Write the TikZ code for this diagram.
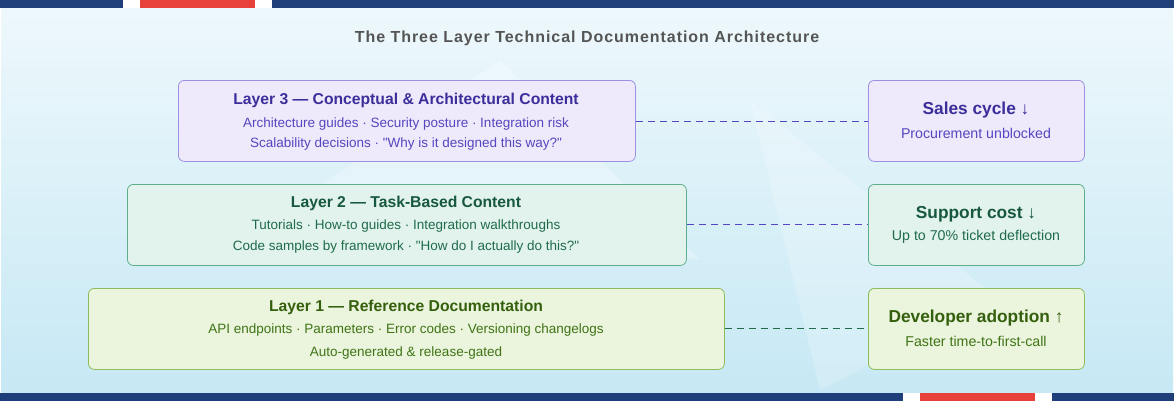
\documentclass[tikz,border=0pt]{standalone}
\usepackage{fontspec}
\setmainfont{Liberation Sans}
\definecolor{navy}{HTML}{1F3F7A}
\definecolor{redbar}{HTML}{E8413C}
\definecolor{bgA}{HTML}{EEF8FC}
\definecolor{bgB}{HTML}{C6E8F4}
\definecolor{tgray}{HTML}{555555}
\definecolor{pFill}{HTML}{EEEAFB}\definecolor{pLine}{HTML}{9D90E2}\definecolor{pHead}{HTML}{3B2E9A}\definecolor{pText}{HTML}{5646C0}
\definecolor{gFill}{HTML}{E1F3EC}\definecolor{gLine}{HTML}{5EAE8B}\definecolor{gHead}{HTML}{17583F}\definecolor{gText}{HTML}{1F6B4B}
\definecolor{lFill}{HTML}{EBF4DC}\definecolor{lLine}{HTML}{8DBD5A}\definecolor{lHead}{HTML}{34600E}\definecolor{lText}{HTML}{3F7415}
\begin{document}
\begin{tikzpicture}[x=1pt,y=-1pt,
 box/.style={draw,rounded corners=6pt,line width=0.8pt,anchor=north west,inner sep=0pt},
 head/.style={font=\bfseries\fontsize{15.7}{18}\selectfont},
 sub/.style={font=\fontsize{13.5}{16}\selectfont},
 rhead/.style={font=\bfseries\fontsize{17.3}{20}\selectfont},
 rsub/.style={font=\fontsize{14.2}{17}\selectfont},
 link/.style={dashed,line width=1pt,dash pattern=on 7pt off 5pt}]
\useasboundingbox (0,0) rectangle (1174,402);
\shade[top color=bgA,bottom color=bgB,rounded corners=8pt] (1,4) rectangle (1173,398);
\fill[white,opacity=0.25] (300,200) -- (500,60) -- (700,260) -- cycle;
\fill[white,opacity=0.2] (750,100) -- (1000,300) -- (820,390) -- cycle;
\fill[navy] (0,0) rectangle (1174,8);
\fill[white] (123,0) rectangle (272,8);
\fill[redbar] (140,0) rectangle (255,8);
\fill[navy] (0,393) rectangle (1174,401);
\fill[white] (903,393) rectangle (1052,401);
\fill[redbar] (920,393) rectangle (1035,401);
\node[font=\bfseries\fontsize{16}{18}\selectfont,text=tgray] (title) at (587,38) {\addfontfeature{LetterSpace=6}The Three Layer Technical Documentation Architecture};
% Layer 3
\node[box,draw=pLine,fill=pFill,minimum width=457pt,minimum height=81pt] (l3) at (178,80) {};
\node[head,text=pHead] (l3h) at (406,100) {Layer 3 — Conceptual \& Architectural Content};
\node[sub,text=pText] (l3a) at (406,124) {Architecture guides · Security posture · Integration risk};
\node[sub,text=pText] (l3b) at (406,144) {Scalability decisions · \textquotedbl Why is it designed this way?\textquotedbl};
\node[box,draw=pLine,fill=pFill,minimum width=216pt,minimum height=81pt] (r3) at (868,80) {};
\node[rhead,text=pHead] (r3h) at (976,110) {Sales cycle ↓};
\node[rsub,text=pText] (r3s) at (976,133) {Procurement unblocked};
\draw[link,draw=pText] (l3.east|-0,121) -- (r3.west|-0,121);
% Layer 2
\node[box,draw=gLine,fill=gFill,minimum width=559pt,minimum height=81pt] (l2) at (127,184) {};
\node[head,text=gHead] (l2h) at (406,203) {Layer 2 — Task-Based Content};
\node[sub,text=gText] (l2a) at (406,226) {Tutorials · How-to guides · Integration walkthroughs};
\node[sub,text=gText] (l2b) at (406,247) {Code samples by framework · \textquotedbl How do I actually do this?\textquotedbl};
\node[box,draw=gLine,fill=gFill,minimum width=216pt,minimum height=81pt] (r2) at (868,184) {};
\node[rhead,text=gHead] (r2h) at (976,214) {Support cost ↓};
\node[rsub,text=gText] (r2s) at (976,237) {Up to 70\% ticket deflection};
\draw[link,draw=pText] (l2.east|-0,224) -- (r2.west|-0,224);
% Layer 1
\node[box,draw=lLine,fill=lFill,minimum width=636pt,minimum height=81pt] (l1) at (88,288) {};
\node[head,text=lHead] (l1h) at (406,307) {Layer 1 — Reference Documentation};
\node[sub,text=lText] (l1a) at (406,330) {API endpoints · Parameters · Error codes · Versioning changelogs};
\node[sub,text=lText] (l1b) at (406,353) {Auto-generated \& release-gated};
\node[box,draw=lLine,fill=lFill,minimum width=216pt,minimum height=81pt] (r1) at (868,288) {};
\node[rhead,text=lHead] (r1h) at (976,318) {Developer adoption ↑};
\node[rsub,text=lText] (r1s) at (976,341) {Faster time-to-first-call};
\draw[link,draw=gText] (l1.east|-0,328) -- (r1.west|-0,328);
\end{tikzpicture}
\end{document}
